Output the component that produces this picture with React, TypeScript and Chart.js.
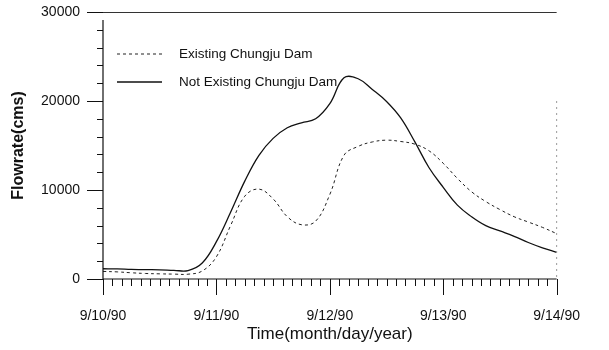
import React, { useEffect, useRef } from "react";
import { Chart, registerables } from "chart.js";

Chart.register(...registerables);

// hours since 9/10/90 00:00
const hours = [0, 3, 6, 9, 12, 15, 18, 21, 24, 27, 30, 33, 36, 39, 42, 45, 48, 51, 54, 57, 60, 63, 66, 69, 72, 75, 78, 81, 84, 87, 90, 93, 96];
const existingDam = [850, 800, 700, 620, 580, 550, 540, 900, 2500, 6000, 9300, 10100, 9000, 7000, 6100, 6500, 9500, 13900, 14900, 15400, 15600, 15450, 15150, 14400, 13000, 11300, 9800, 8700, 7800, 7000, 6400, 5800, 5100];
const notExistingDam = [1150, 1130, 1080, 1050, 1030, 980, 950, 1800, 4200, 7500, 11000, 13900, 15800, 17000, 17550, 18000, 19700, 22600, 22500, 21300, 19950, 18100, 15400, 12500, 10300, 8300, 7000, 6000, 5400, 4800, 4100, 3500, 3000];
const xTickLabels = ["9/10/90", "9/11/90", "9/12/90", "9/13/90", "9/14/90"];
const seriesLabels = ["Existing Chungju Dam", "Not Existing Chungju Dam"];
const xTitle = "Time(month/day/year)";
const yTitle = "Flowrate(cms)";

const FONT = "'Liberation Sans', Arial, sans-serif";

const axesPlugin = {
  id: "axesPlugin",
  afterDraw(chart: any) {
    const ctx = chart.ctx;
    const xs = chart.scales.x;
    const ys = chart.scales.y;
    const x0 = xs.getPixelForValue(0);
    const x1 = xs.getPixelForValue(96);
    const y0 = ys.getPixelForValue(0);
    const yTop = ys.getPixelForValue(30000);
    ctx.save();
    ctx.strokeStyle = "#111";
    ctx.lineWidth = 1.2;
    ctx.beginPath();
    ctx.moveTo(x0, y0);
    ctx.lineTo(x0, yTop + 8);
    ctx.moveTo(x0, y0);
    ctx.lineTo(x1, y0);
    ctx.stroke();
    // top frame
    ctx.lineWidth = 1;
    ctx.strokeStyle = "#333";
    ctx.beginPath();
    ctx.moveTo(x0 - 16, Math.round(yTop) + 0.5);
    ctx.lineTo(x1, Math.round(yTop) + 0.5);
    ctx.stroke();
    // y ticks
    ctx.strokeStyle = "#111";
    ctx.beginPath();
    for (let v = 0; v <= 30000; v += 2000) {
      const p = Math.round(ys.getPixelForValue(v)) + 0.5;
      const len = v % 10000 === 0 ? 16 : 6;
      ctx.moveTo(x0 - len, p);
      ctx.lineTo(x0, p);
    }
    // x ticks
    for (let h = 0; h <= 96; h += 2) {
      const p = Math.round(xs.getPixelForValue(h)) + 0.5;
      const len = h % 24 === 0 ? 16 : 7;
      ctx.moveTo(p, y0);
      ctx.lineTo(p, y0 + len);
    }
    ctx.stroke();
    // faint right frame
    ctx.strokeStyle = "#999";
    ctx.setLineDash([2, 4]);
    ctx.beginPath();
    ctx.moveTo(x1, ys.getPixelForValue(20000));
    ctx.lineTo(x1, y0);
    ctx.stroke();
    ctx.restore();
  },
  afterDatasetsDraw(chart: any) {
    const ctx = chart.ctx;
    ctx.save();
    chart.data.datasets.forEach((ds: any, i: number) => {
      const yy = 54 + i * 28;
      ctx.strokeStyle = ds.borderColor;
      ctx.lineWidth = ds.borderWidth;
      ctx.setLineDash(ds.borderDash || []);
      ctx.beginPath();
      ctx.moveTo(117, yy);
      ctx.lineTo(162, yy);
      ctx.stroke();
      ctx.setLineDash([]);
      ctx.fillStyle = "#111";
      ctx.font = `13.5px ${FONT}`;
      ctx.textBaseline = "middle";
      ctx.textAlign = "left";
      ctx.fillText(ds.label, 179, yy);
    });
    ctx.restore();
  },
};

export default function App() {
  const ref = useRef<HTMLCanvasElement>(null);
  useEffect(() => {
    document.body.style.margin = "0";
    const chart = new Chart(ref.current!, {
      type: "line",
      data: {
        datasets: [
          {
            label: seriesLabels[0],
            data: hours.map((h, i) => ({ x: h, y: existingDam[i] })),
            borderColor: "#222",
            borderWidth: 1,
            borderDash: [3, 3],
            pointRadius: 0,
            tension: 0.4,
          },
          {
            label: seriesLabels[1],
            data: hours.map((h, i) => ({ x: h, y: notExistingDam[i] })),
            borderColor: "#111",
            borderWidth: 1.3,
            pointRadius: 0,
            tension: 0.4,
          },
        ],
      },
      options: {
        animation: false,
        responsive: false,
        layout: { padding: { left: 0, right: 31, top: 12, bottom: 0 } },
        plugins: { legend: { display: false }, tooltip: { enabled: false } },
        scales: {
          x: {
            type: "linear",
            min: 0,
            max: 96,
            border: { display: false },
            grid: { display: false, drawTicks: false },
            ticks: {
              stepSize: 24,
              autoSkip: false,
              maxRotation: 0,
              padding: 29,
              color: "#111",
              font: { family: FONT, size: 14 },
              callback: (v: any) => xTickLabels[Math.round(Number(v) / 24)] ?? "",
            },
            title: {
              display: true,
              text: xTitle,
              color: "#111",
              font: { family: FONT, size: 17 },
              padding: { top: 0, bottom: 5 },
            },
            afterFit: (s: any) => {
              s.height = 350 - 279;
              s.paddingTop = 0;
              s.paddingBottom = 0;
            },
          },
          y: {
            min: 0,
            max: 30000,
            border: { display: false },
            grid: { display: false, drawTicks: false },
            ticks: {
              stepSize: 10000,
              padding: 23,
              color: "#111",
              font: { family: FONT, size: 14 },
              callback: (v: any) => String(v),
            },
            title: {
              display: true,
              text: yTitle,
              color: "#111",
              font: { family: FONT, size: 16, weight: "bold" },
              padding: { top: 9, bottom: 0 },
            },
            afterFit: (s: any) => {
              s.width = 103;
              s.paddingTop = 0;
              s.paddingBottom = 0;
            },
          },
        },
      },
      plugins: [axesPlugin],
    });
    return () => chart.destroy();
  }, []);
  return (
    <div style={{ width: 609, height: 350, background: "#fff" }}>
      <canvas ref={ref} width={609} height={350} />
    </div>
  );
}
